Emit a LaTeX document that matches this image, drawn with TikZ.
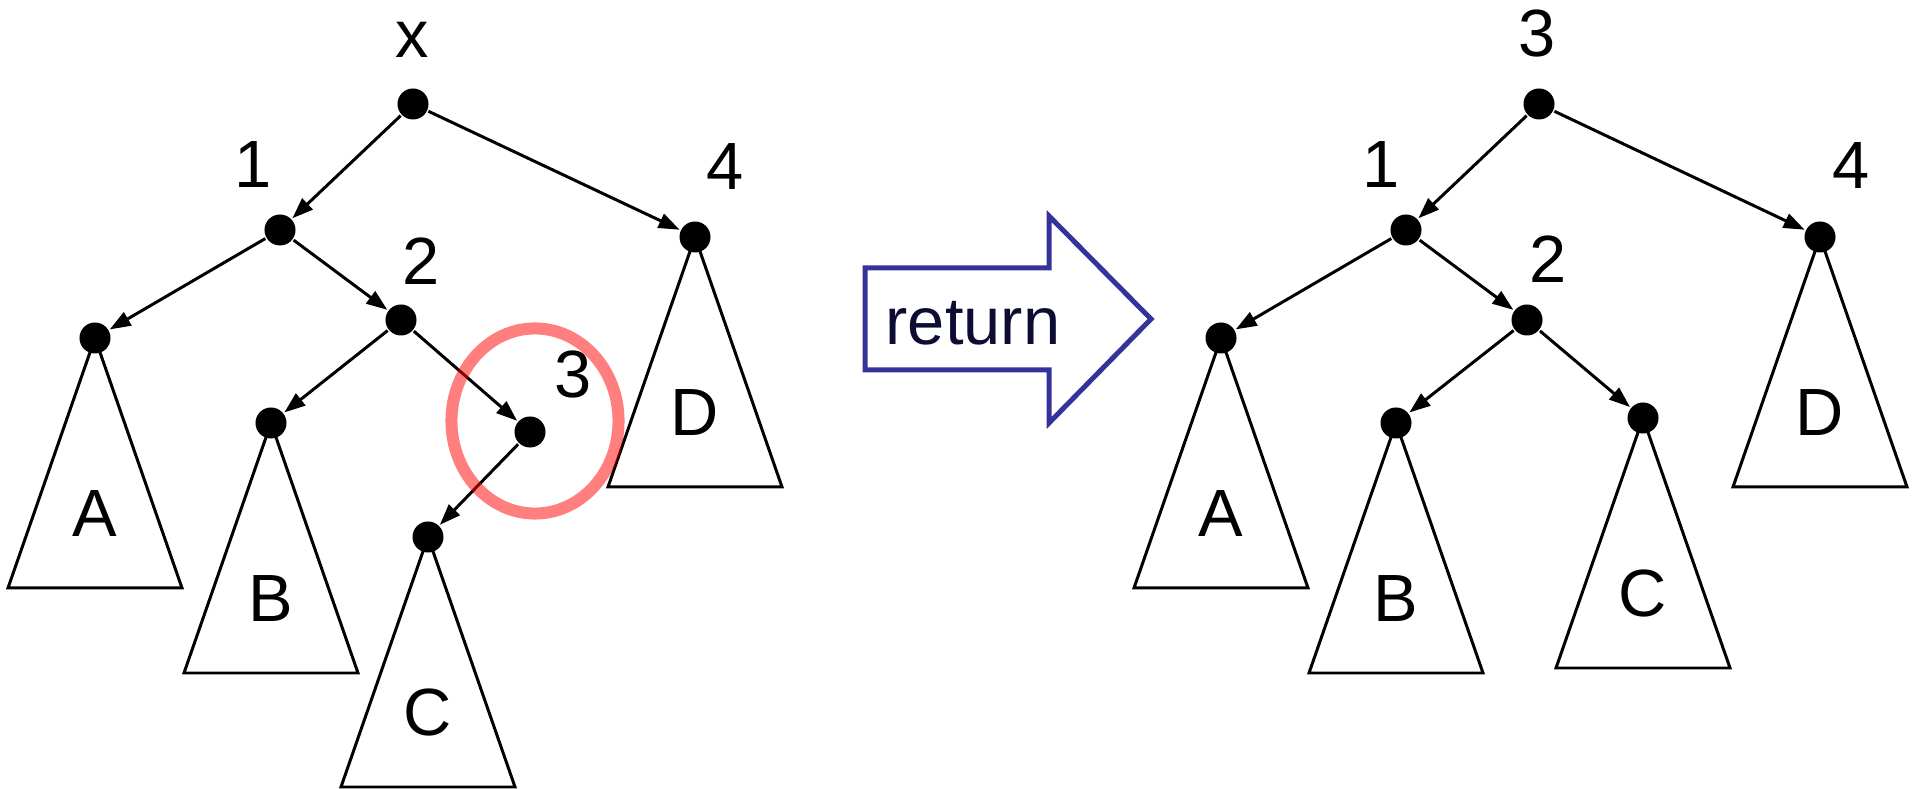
\documentclass[tikz,border=0pt]{standalone}
\usepackage{fontspec}
\setmainfont{Liberation Sans}
\usetikzlibrary{arrows.meta, calc}
\definecolor{cnavy}{HTML}{333399}
\definecolor{ctext}{HTML}{0D0D33}
\tikzset{
  every picture/.style={line width=0.85pt},
  dot/.style={circle, fill=black, inner sep=0pt, minimum size=0.31cm},
  link/.style={-{Triangle[length=0.21cm, width=0.15cm]}},
  tri/.style={line join=miter},
  lbl/.style={font=\fontsize{19}{23}\selectfont, inner sep=0pt},
  ring/.style={draw=red, opacity=0.5, line width=0.12cm},
  bigarrow/.style={draw=cnavy, line width=0.05cm, line join=miter},
}
\newcommand{\subtri}[2]{% node name, subtree letter
  \draw[tri] (#1.center) -- ++(-87,250) -- ++(174,0) -- cycle;
  \node[lbl] (#1-t) at ($(#1)+(0,176)$) {#2};
}

\begin{document}
\begin{tikzpicture}[x=0.01cm, y=-0.01cm]
  \useasboundingbox (0,0) rectangle (1915,789);

  % before: left tree
  \node[dot] (lx) at (413,104) {};
  \node[dot] (l1) at (280,230) {};
  \node[dot] (l4) at (695,237) {};
  \node[dot] (l2) at (401,320) {};
  \node[dot] (la) at (95,338) {};
  \node[dot] (lb) at (271,423) {};
  \node[dot] (l3) at (530,432) {};
  \node[dot] (lc) at (428,537) {};
  \node[lbl] (lx-n) at (412,40) {x};
  \node[lbl] (l1-n) at (253,165) {1};
  \node[lbl] (l2-n) at (421,261) {2};
  \node[lbl] (l3-n) at (573,375) {3};
  \node[lbl] (l4-n) at (725,167) {4};
  \subtri{la}{A}
  \subtri{lb}{B}
  \subtri{lc}{C}
  \subtri{l4}{D}
  \draw[link] (lx) -- (l1);
  \draw[link] (lx) -- (l4);
  \draw[link] (l1) -- (la);
  \draw[link] (l1) -- (l2);
  \draw[link] (l2) -- (lb);
  \draw[link] (l2) -- (l3);
  \draw[link] (l3) -- (lc);

  % the block arrow
  \draw[bigarrow] (865,268) -- (1049,268) -- (1049,216) -- (1151,319)
    -- (1049,423) -- (1049,370) -- (865,370) -- cycle;
  \node[lbl, text=ctext, anchor=base] (ret) at (973,345) {return};

  % after: right tree
  \node[dot] (r3) at (1539,104) {};
  \node[dot] (r1) at (1406,230) {};
  \node[dot] (r4) at (1820,237) {};
  \node[dot] (r2) at (1527,320) {};
  \node[dot] (ra) at (1221,338) {};
  \node[dot] (rb) at (1396,423) {};
  \node[dot] (rc) at (1643,418) {};
  \node[lbl] (r3-n) at (1537,34) {3};
  \node[lbl] (r1-n) at (1381,165) {1};
  \node[lbl] (r2-n) at (1548,259) {2};
  \node[lbl] (r4-n) at (1851,166) {4};
  \subtri{ra}{A}
  \subtri{rb}{B}
  \subtri{rc}{C}
  \subtri{r4}{D}
  \draw[link] (r3) -- (r1);
  \draw[link] (r3) -- (r4);
  \draw[link] (r1) -- (ra);
  \draw[link] (r1) -- (r2);
  \draw[link] (r2) -- (rb);
  \draw[link] (r2) -- (rc);

  % highlight on node 3
  \draw[ring] (535,421) ellipse [x radius=0.835cm, y radius=0.925cm];
\end{tikzpicture}
\end{document}
